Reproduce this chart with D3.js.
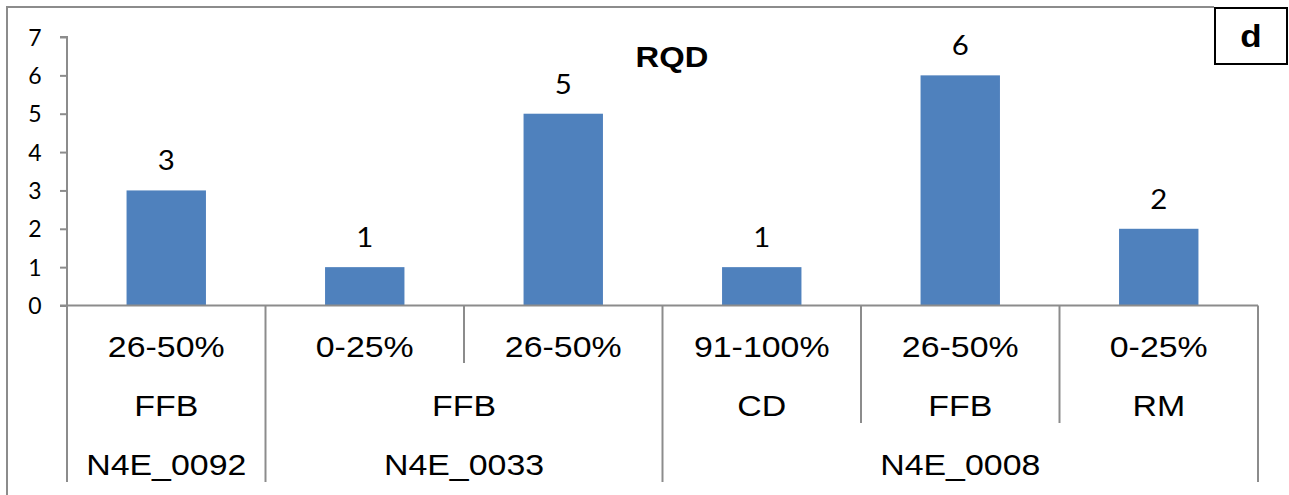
<!DOCTYPE html>
<html><head><meta charset="utf-8">
<script src="https://cdn.jsdelivr.net/npm/d3@7"></script>
<style>body{margin:0;background:#fff}svg{display:block}</style>
</head><body>
<svg id="c" width="1289" height="495"></svg>
<script>
const title = "RQD";
const panelLabel = "d";
const values = [3, 1, 5, 1, 6, 2];
const level1 = ["26-50%", "0-25%", "26-50%", "91-100%", "26-50%", "0-25%"];
const level2 = [["FFB", 1], ["FFB", 2], ["CD", 1], ["FFB", 1], ["RM", 1]];
const level3 = [["N4E_0092", 1], ["N4E_0033", 2], ["N4E_0008", 3]];
const yTicks = [0, 1, 2, 3, 4, 5, 6, 7];

const svg = d3.select("#c");
const L = 67, R = 1258, T = 37, B = 305.5;
const x = d3.scaleBand().domain(d3.range(values.length)).range([L, R]).paddingInner(0.6).paddingOuter(0.3);
const y = d3.scaleLinear().domain([0, 7]).range([B, T]);
const step = x.step();
const catLeft = i => L + i * step;
const axisCol = "#8c8c8c";
const SX = 1.13;

// outer frame
svg.append("path").attr("d", "M7,500 V7 H1214").attr("fill", "none").attr("stroke", axisCol).attr("stroke-width", 2);
// panel label box
svg.append("rect").attr("x", 1215).attr("y", 8).attr("width", 72).attr("height", 56).attr("fill", "#fff").attr("stroke", "#000").attr("stroke-width", 2);
svg.append("text").attr("transform", `translate(1251,47) scale(${SX},1)`).attr("text-anchor", "middle")
  .attr("font-family", "Liberation Sans, Arial").attr("font-weight", "bold").attr("font-size", 31).text(panelLabel);

// title
svg.append("text").attr("transform", `translate(672,67) scale(${SX},1)`).attr("text-anchor", "middle")
  .attr("font-family", "Liberation Sans, Arial").attr("font-weight", "bold").attr("font-size", 29).text(title);

// y axis
const yAxis = d3.axisLeft(y).tickValues(yTicks).tickSize(7).tickPadding(0).tickFormat(d3.format("d"));
const gy = svg.append("g").attr("transform", `translate(${L},0)`).call(yAxis);
gy.select(".domain").attr("stroke", axisCol).attr("stroke-width", 2).attr("d", `M-7,${T}H0V${B}`);
gy.selectAll(".tick line").attr("stroke", axisCol).attr("stroke-width", 2);
gy.selectAll(".tick text").attr("font-family", "Lato, Carlito, Calibri, sans-serif").attr("font-size", 23)
  .attr("fill", "#000").attr("x", -32).attr("dy", "0.35em").attr("text-anchor", "middle");

// bars
svg.append("g").selectAll("rect").data(values).join("rect")
  .attr("x", (d, i) => x(i)).attr("width", x.bandwidth())
  .attr("y", d => y(d)).attr("height", d => y(0) - y(d)).attr("fill", "#4F81BD");

// data labels
svg.append("g").selectAll("text").data(values).join("text")
  .attr("transform", (d, i) => `translate(${x(i) + x.bandwidth() / 2},${y(d) - 20}) scale(${SX},1)`)
  .attr("text-anchor", "middle").attr("font-family", "Lato, Carlito, Calibri, sans-serif").attr("font-size", 26)
  .attr("fill", "#000").text(d => d);

// baseline
svg.append("line").attr("x1", L - 7).attr("x2", R).attr("y1", B).attr("y2", B).attr("stroke", axisCol).attr("stroke-width", 2);

// multi-level category axis
const rowBottoms = [363, 423, 482];
const rowBaselines = [357, 416, 475];
const labelFont = "Liberation Sans, Arial, sans-serif";
const gx = svg.append("g");
function drawLevel(groups, row) {
  let idx = 0;
  const boundaries = [0];
  groups.forEach(([label, span]) => {
    const x0 = catLeft(idx), x1 = catLeft(idx + span);
    gx.append("text").attr("transform", `translate(${(x0 + x1) / 2},${rowBaselines[row]}) scale(${SX},1)`)
      .attr("text-anchor", "middle").attr("font-family", labelFont).attr("font-size", 30).attr("fill", "#000").text(label);
    idx += span;
    boundaries.push(idx);
  });
  return boundaries;
}
const b1 = drawLevel(level1.map(l => [l, 1]), 0);
const b2 = drawLevel(level2, 1);
const b3 = drawLevel(level3, 2);
// separator lines: each boundary extends down to the deepest level where it is a boundary
d3.range(values.length + 1).forEach(k => {
  let bottom = rowBottoms[0];
  if (b2.includes(k)) bottom = rowBottoms[1];
  if (b3.includes(k)) bottom = rowBottoms[2];
  gx.append("line").attr("x1", catLeft(k)).attr("x2", catLeft(k)).attr("y1", B).attr("y2", bottom)
    .attr("stroke", axisCol).attr("stroke-width", 2);
});
</script>
</body></html>
